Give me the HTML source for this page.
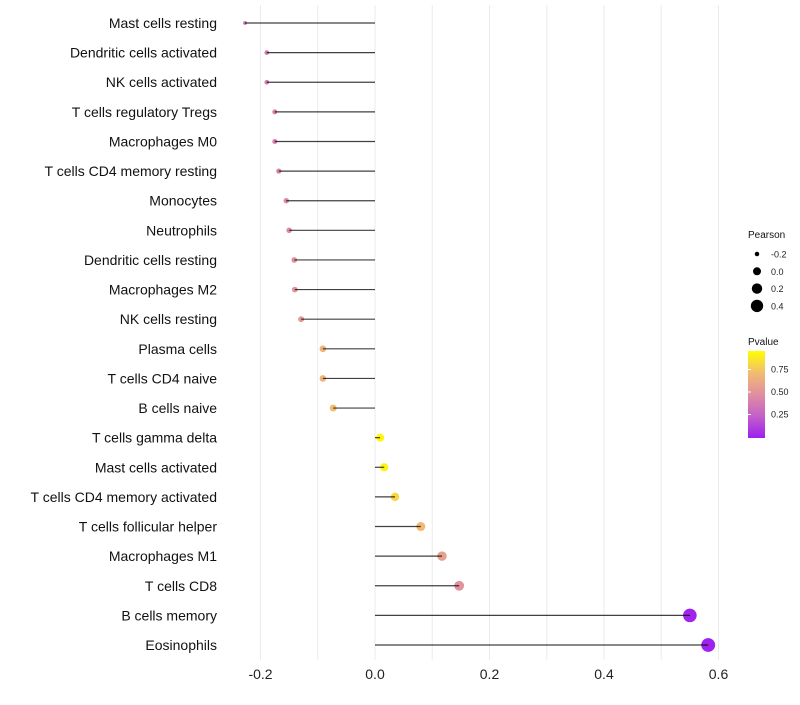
<!DOCTYPE html>
<html><head><meta charset="utf-8"><style>
body{margin:0;background:#fff}
svg text{font-family:"Liberation Sans",sans-serif}
</style></head><body>
<svg id="chart" width="800" height="700" xmlns="http://www.w3.org/2000/svg">
<defs><linearGradient id="pg" x1="0" y1="1" x2="0" y2="0">
<stop offset="0" stop-color="#9d1ff0"/><stop offset="0.25" stop-color="#c360c8"/><stop offset="0.5" stop-color="#e08ea0"/><stop offset="0.75" stop-color="#f2bc70"/><stop offset="1" stop-color="#ffff00"/></linearGradient></defs>
<g id="grid"></g><g id="marks"></g><g id="labels"></g><g id="legend"></g>
</svg>
<script>
const categories=["Mast cells resting","Dendritic cells activated","NK cells activated","T cells regulatory  Tregs","Macrophages M0","T cells CD4 memory resting","Monocytes","Neutrophils","Dendritic cells resting","Macrophages M2","NK cells resting","Plasma cells","T cells CD4 naive","B cells naive","T cells gamma delta","Mast cells activated","T cells CD4 memory activated","T cells follicular helper","Macrophages M1","T cells CD8","B cells memory","Eosinophils"];
const pearson=[-0.227,-0.189,-0.189,-0.175,-0.175,-0.168,-0.155,-0.150,-0.141,-0.140,-0.129,-0.091,-0.091,-0.073,0.009,0.016,0.035,0.080,0.117,0.147,0.550,0.582];
const pvalue=[0.30,0.40,0.40,0.42,0.42,0.44,0.47,0.49,0.52,0.52,0.56,0.70,0.70,0.75,0.97,0.95,0.85,0.73,0.60,0.52,0.02,0.01];
const xTicks=[-0.2,0,0.2,0.4,0.6];
const xTickLabels=["-0.2","0.0","0.2","0.4","0.6"];
const sizeLegend=[-0.2,0,0.2,0.4];
const colorLegend=[0.25,0.5,0.75];
const NS="http://www.w3.org/2000/svg";
const x=v=>375+v*572.5;
const y=i=>23+i*(622/21);
const r=v=>Math.sqrt(Math.max(2,16+55*v));
const stops=[[0,[157,31,240]],[0.25,[195,96,200]],[0.5,[224,142,160]],[0.75,[242,188,112]],[1,[255,255,0]]];
function col(p){for(let k=1;k<stops.length;k++){if(p<=stops[k][0]){const a=stops[k-1],b=stops[k],t=(p-a[0])/(b[0]-a[0]);return "rgb("+a[1].map((c,j)=>Math.round(c+(b[1][j]-c)*t)).join(",")+")";}}return "rgb(255,255,0)";}
function mk(t,at,parent){const e=document.createElementNS(NS,t);for(const k in at)e.setAttribute(k,at[k]);parent.appendChild(e);return e;}
const G=document.getElementById("grid"),M=document.getElementById("marks"),L=document.getElementById("labels"),LG=document.getElementById("legend");
for(let v=-0.2;v<=0.61;v+=0.1){const g=mk("line",{x1:x(v),x2:x(v),y1:5,y2:660,stroke:"#ebebeb","stroke-width":1},G);

}
xTicks.forEach((v,i)=>{const t=mk("text",{x:x(v),y:679,"text-anchor":"middle","font-size":14,fill:"#222"},L);t.textContent=xTickLabels[i];

});
categories.forEach((c,i)=>{
const dot=mk("circle",{cx:x(pearson[i]),cy:y(i),r:r(pearson[i]),fill:col(pvalue[i])},M);


const ln=mk("line",{x1:x(pearson[i]),x2:x(0),y1:y(i),y2:y(i),stroke:"#000","stroke-opacity":0.75,"stroke-width":1.2},M);


const t=mk("text",{x:217,y:y(i)+5,"text-anchor":"end","font-size":14,fill:"#111"},L);t.textContent=c;

});
const lt=mk("text",{x:748,y:238,"font-size":10,fill:"#111"},LG);lt.textContent="Pearson";


sizeLegend.forEach((v,i)=>{const cy=254+i*17.3;
const c=mk("circle",{cx:757,cy:cy,r:r(v),fill:"#000"},LG);


const t=mk("text",{x:771,y:cy+3.5,"font-size":9,fill:"#222"},LG);t.textContent=v.toFixed(1);

});
const ct=mk("text",{x:748,y:345,"font-size":10,fill:"#111"},LG);ct.textContent="Pvalue";


const bar=mk("rect",{x:748,y:351,width:17,height:87,fill:"url(#pg)"},LG);


const cy=p=>437-p*90;
colorLegend.forEach(p=>{const t=mk("text",{x:771,y:cy(p)+3,"font-size":9,fill:"#222"},LG);t.textContent=p.toFixed(2);


const tk=mk("line",{x1:748,x2:751,y1:cy(p),y2:cy(p),stroke:"#fff"},LG);

});
</script>
</body></html>
